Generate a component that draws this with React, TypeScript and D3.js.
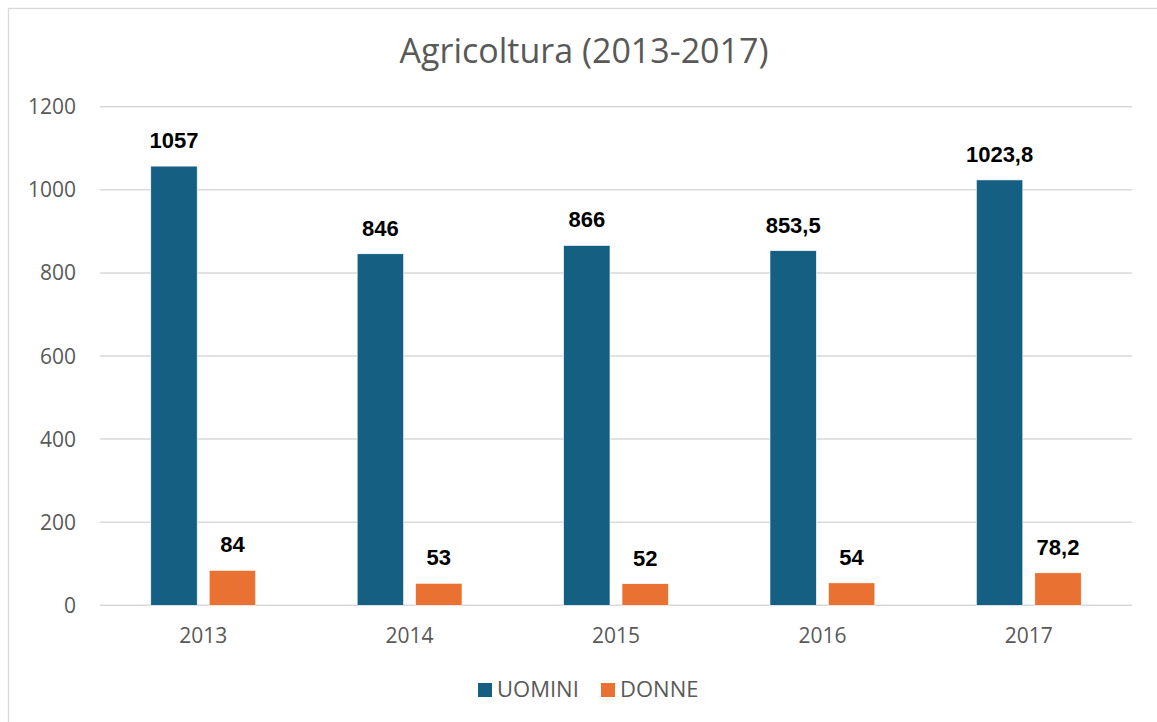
import React from "react";
import * as d3 from "d3";

const years = ["2013", "2014", "2015", "2016", "2017"];
const series = ["UOMINI", "DONNE"];
const uomini = [1057, 846, 866, 853.5, 1023.8];
const donne = [84, 53, 52, 54, 78.2];
const yTicks = [0, 200, 400, 600, 800, 1000, 1200];
const colors = ["#156082", "#E97132"];
const title = "Agricoltura (2013-2017)";

const W = 1157;
const H = 722;

const fmt = (v: number) => String(v).replace(".", ",");

export default function App() {
  const x = d3.scaleBand<string>().domain(years).range([100, 1132]).paddingInner(0).paddingOuter(0);
  const y = d3.scaleLinear().domain([0, 1200]).range([605.3, 106.7]);
  const groupW = x.bandwidth() * 0.508;
  const x1 = d3.scaleBand<string>().domain(series).range([0, groupW]).paddingInner(0.2055).paddingOuter(0);
  const valuesBySeries = [uomini, donne];
  const textGray = "#595959";
  const fontMain = "'Open Sans', 'Noto Sans', sans-serif";
  const fontLabel = "'Liberation Sans', Arial, sans-serif";

  const legendItems = [
    { name: series[0], x: 478 },
    { name: series[1], x: 601 },
  ];

  return (
    <svg width={W} height={H} style={{ position: "absolute", left: 0, top: 0, display: "block" }}>
      <rect x={0} y={0} width={W} height={H} fill="#ffffff" />
      <rect x={8.5} y={8.5} width={W + 20} height={H + 20} fill="#ffffff" stroke="#d9d9d9" strokeWidth={1.3} />
      <text x={584} y={63.3} textAnchor="middle" fontFamily={fontMain} fontSize={34} fill={textGray}>
        {title}
      </text>
      {yTicks.map((t) => (
        <g key={t}>
          <line x1={100} x2={1132} y1={y(t)} y2={y(t)} stroke="#d9d9d9" strokeWidth={1.5} />
          <text x={76} y={y(t) + 7.5} textAnchor="end" fontFamily={fontMain} fontSize={21} fill={textGray}>
            {t}
          </text>
        </g>
      ))}
      {years.map((yr, i) => {
        const cx = (x(yr) as number) + x.bandwidth() / 2;
        const gx = cx - groupW / 2;
        return (
          <g key={yr}>
            {series.map((s, si) => {
              const v = valuesBySeries[si][i];
              const bx = gx + (x1(s) as number);
              const top = y(v);
              return (
                <g key={s}>
                  <rect
                    x={bx}
                    y={top}
                    width={x1.bandwidth()}
                    height={y(0) - top}
                    fill={colors[si]}
                    stroke="#ffffff"
                    strokeWidth={0.6}
                  />
                  <text
                    x={bx + x1.bandwidth() / 2}
                    y={top - 18}
                    textAnchor="middle"
                    fontFamily={fontLabel}
                    fontWeight="bold"
                    fontSize={22}
                    fill="#000000"
                  >
                    {fmt(v)}
                  </text>
                </g>
              );
            })}
            <text x={cx} y={642.7} textAnchor="middle" fontFamily={fontMain} fontSize={21} fill={textGray}>
              {yr}
            </text>
          </g>
        );
      })}
      {legendItems.map((it, i) => (
        <g key={it.name}>
          <rect x={it.x} y={683} width={14} height={14} fill={colors[i]} />
          <text x={it.x + 19} y={696.7} fontFamily={fontMain} fontSize={22} fill={textGray}>
            {it.name}
          </text>
        </g>
      ))}
    </svg>
  );
}
